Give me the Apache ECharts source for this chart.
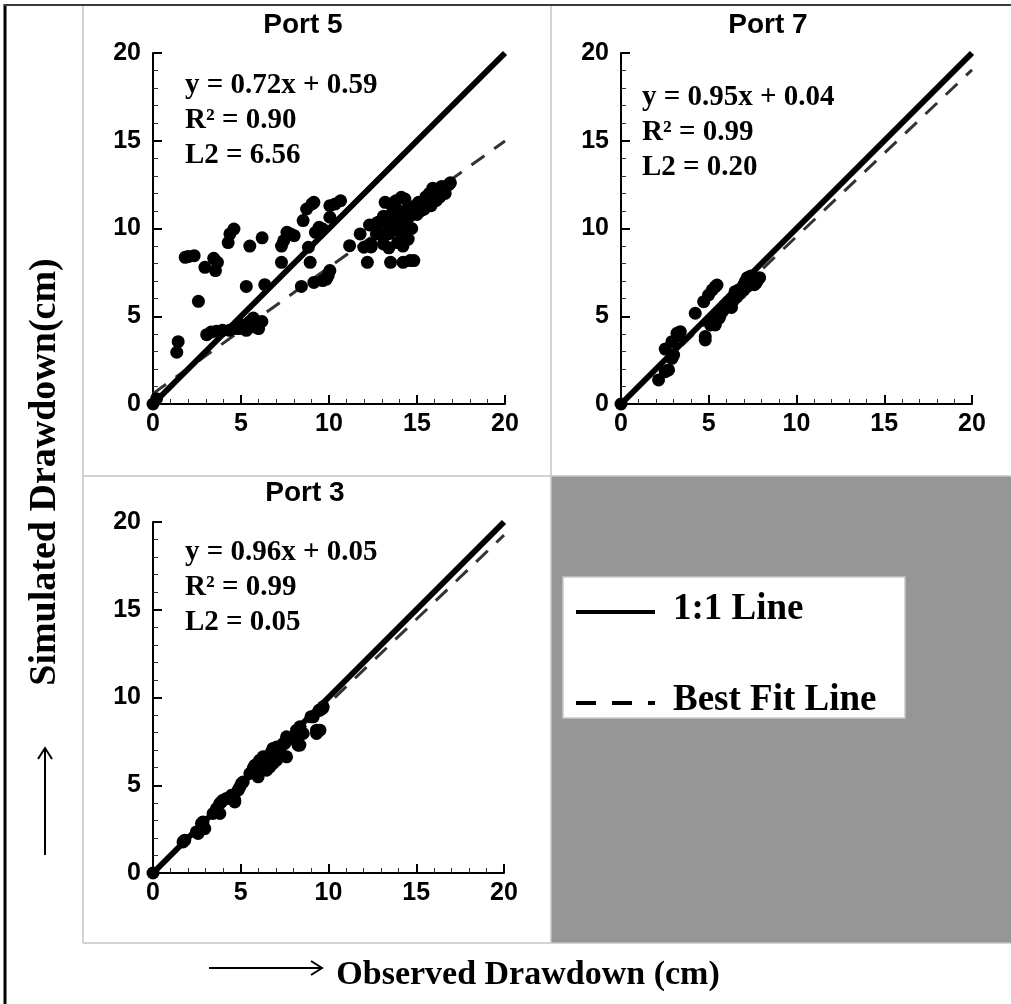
<!DOCTYPE html>
<html>
<head>
<meta charset="utf-8">
<script src="https://cdn.jsdelivr.net/npm/echarts@6/dist/echarts.min.js"></script>
<style>html,body{margin:0;padding:0;background:#fff}#c{width:1011px;height:1004px}</style>
</head>
<body>
<div id="c"></div>
<script>
// ---- data ----
const panelTitles = ['Port 5', 'Port 7', 'Port 3'];
const tickValues = [0, 5, 10, 15, 20];
const fitSlope = [0.72, 0.95, 0.96];
const fitIntercept = [0.59, 0.04, 0.05];
const fitR2 = ['0.90', '0.99', '0.99'];
const fitL2 = ['6.56', '0.20', '0.05'];
const legendLabels = ['1:1 Line', 'Best Fit Line'];
const xTitle = 'Observed Drawdown (cm)';
const yTitle = 'Simulated Drawdown(cm)';

const port5 = [[0,0],[0.2,0.3],[1.35,2.95],[1.43,3.55],[1.83,8.36],[2.34,8.45],[2.0,8.4],[2.58,5.85],
[2.95,7.79],[3.45,8.3],[3.55,7.6],[3.66,8.07],[4.27,9.2],[4.37,9.69],[4.6,9.97],[5.3,6.7],[5.5,9.0],
[6.2,9.47],[6.35,6.8],[3.05,3.95],[3.3,4.1],[3.6,4.15],[3.95,4.2],[4.35,4.2],[4.6,4.3],[4.87,4.3],
[5.1,4.5],[5.3,4.2],[5.5,4.7],[5.6,4.4],[5.83,4.5],[6.0,4.3],[6.19,4.7],[5.7,4.9],[7.3,8.07],[7.3,9.0],
[7.42,9.3],[7.61,9.78],[7.81,9.69],[8.02,9.59],[8.43,6.7],[8.53,10.45],[8.73,11.11],[9.03,11.4],
[9.14,11.49],[8.83,8.93],[8.93,8.07],[9.14,6.93],[9.64,7.03],[9.85,7.12],[10.05,7.6],[9.95,7.31],
[9.23,9.78],[9.44,10.07],[9.64,9.97],[10.05,10.64],[10.05,11.3],[10.35,11.4],[10.66,11.58],[11.17,9.02],
[11.77,9.69],[11.98,8.93],[12.38,9.12],[12.18,8.07],[12.59,10.16],[12.79,10.35],[12.69,9.69],[13.09,9.12],
[13.19,11.49],[13.5,11.4],[13.8,11.58],[14.11,11.78],[14.31,11.68],[13.5,8.07],[14.21,8.07],[14.61,8.17],
[14.82,8.17],[13.1,10.7],[13.3,10.3],[13.4,9.7],[13.6,10.9],[13.7,10.4],[13.8,9.9],[13.9,10.6],[14.0,11.0],
[14.1,10.2],[14.2,9.6],[14.3,10.8],[14.4,10.4],[14.5,11.1],[14.6,10.7],[14.7,10.0],[14.8,10.9],[14.9,11.3],
[15.0,10.8],[15.1,11.5],[15.2,11.0],[15.3,11.4],[15.4,11.1],[15.5,11.8],[15.6,11.4],[15.7,12.0],[15.8,11.3],
[15.9,11.8],[16.0,12.2],[16.1,11.6],[16.2,12.0],[16.3,11.8],[16.4,12.4],[16.5,12.3],[16.6,12.0],[16.8,12.5],
[16.9,12.6],[15.9,12.3],[14.2,9.0],[13.9,9.2],[14.5,9.4],[13.4,8.9],[12.9,9.7],[12.4,8.95],[12.3,10.2],[12.7,10.3]];

const port7 = [[0,0],[2.14,1.37],[2.52,1.84],[2.71,1.94],[2.52,3.13],[2.9,2.6],[3.0,2.79],[2.9,3.55],
[3.19,4.03],[3.38,4.12],[3.3,3.9],[4.23,5.17],[4.8,3.65],[4.8,3.84],[4.71,5.83],[4.99,6.21],[5.37,6.68],
[5.47,6.78],[5.2,6.5],[5.37,4.5],[5.47,4.79],[5.66,5.07],[5.2,4.6],[5.8,5.3],[5.9,5.6],[6.0,5.5],[6.1,5.8],
[6.2,5.7],[6.3,6.0],[6.4,5.9],[6.5,6.2],[6.5,6.4],[6.6,6.1],[6.7,6.5],[6.8,6.3],[6.9,6.6],[7.0,6.8],
[7.0,6.5],[7.1,7.0],[7.2,6.7],[7.2,7.2],[7.3,6.9],[7.4,7.3],[7.5,7.0],[7.6,7.2],[7.7,6.9],[7.8,7.1],
[7.9,7.2],[7.6,6.8],[6.3,5.5],[5.6,4.9],[5.1,4.5]];

const port3 = [[0,0],[1.71,1.77],[1.81,1.87],[2.47,2.34],[2.57,2.25],[2.76,2.53],[2.85,2.91],[2.76,2.82],
[2.95,2.53],[3.42,3.39],[3.62,3.67],[3.81,3.39],[3.8,3.96],[3.9,4.05],[3.99,4.15],[4.18,4.24],[4.37,4.24],
[4.47,4.43],[4.66,4.05],[4.66,4.14],[4.85,4.72],[4.95,4.9],[5.04,5.1],[5.14,5.19],[5.52,5.67],[5.71,5.96],
[5.8,6.14],[5.9,6.05],[5.99,5.48],[6.08,6.43],[6.27,6.62],[6.37,6.52],[6.47,5.86],[6.47,6.62],[6.66,6.05],
[6.75,6.9],[6.84,6.24],[6.84,7.1],[7.04,6.43],[7.04,7.18],[7.13,6.71],[7.23,7.0],[7.42,7.38],[7.51,7.38],
[7.61,6.62],[7.61,7.76],[7.9,7.66],[8.18,8.14],[8.18,7.95],[8.27,7.28],[8.37,8.33],[8.37,7.29],[8.56,7.95],
[9.0,8.9],[9.13,8.9],[9.32,7.95],[9.32,8.14],[9.47,9.28],[9.51,8.14],[9.51,9.28],[9.66,9.38],[9.7,9.47]];

const portData = [port5, port7, port3];
const oneToOne = [[0,0],[20,20]];

// ---- layout ----
const grids = [
  {left:153, top:53, width:352, height:351},
  {left:621, top:53, width:351, height:351},
  {left:153, top:522, width:351, height:351}
];
const SANS = '"Liberation Sans", Arial, sans-serif';
const SERIF = '"Liberation Serif", "Times New Roman", serif';

function axisCommon(i){
  return {
    gridIndex:i, type:'value', min:0, max:20, interval:5,
    axisLine:{show:true, onZero:false, lineStyle:{color:'#000', width:2}},
    axisTick:{show:true, inside:true, length:9, lineStyle:{color:'#000', width:2}},
    minorTick:{show:true, splitNumber:5, length:5, lineStyle:{color:'#333', width:1}},
    splitLine:{show:false},
    axisLabel:{color:'#000', fontFamily:SANS, fontWeight:'bold', fontSize:25, margin:8}
  };
}

const xAxes = grids.map((g,i)=>axisCommon(i));
const yAxes = grids.map((g,i)=>{ const a = axisCommon(i); a.axisLabel.margin = 12; return a; });

const series = [];
grids.forEach((g,i)=>{
  series.push({
    type:'line', xAxisIndex:i, yAxisIndex:i, symbol:'none', silent:true,
    data:[[0, fitIntercept[i]], [20, fitSlope[i]*20 + fitIntercept[i]]],
    lineStyle:{color:'#333', width:3, type:[16,12]}, z:2
  });
  series.push({
    type:'scatter', xAxisIndex:i, yAxisIndex:i, data:portData[i], symbol:'circle', symbolSize:13,
    itemStyle:{color:'#000', opacity:1}, clip:false, z:3
  });
  series.push({
    type:'line', xAxisIndex:i, yAxisIndex:i, symbol:'none', silent:true, data:oneToOne,
    lineStyle:{color:'#000', width:6}, z:4
  });
});

function txt(x, y, text, size, family, align, extra){
  return Object.assign({
    type:'text', x:x, y:y, silent:true,
    style:{text:text, fill:'#000', fontSize:size, fontWeight:'bold', fontFamily:family,
      align:align, verticalAlign:'middle', textAlign:align, textVerticalAlign:'middle'}
  }, extra||{});
}
function ln(x1,y1,x2,y2,color,w,dash,z){
  return {type:'line', silent:true, z:z||1, shape:{x1,y1,x2,y2},
    style:{stroke:color, lineWidth:w, lineDash:dash||null}};
}

const graphics = [];
graphics.push({type:'rect', z:-10, silent:true, shape:{x:551, y:476, width:460, height:467}, style:{fill:'#969696'}});
graphics.push(ln(83,5,83,943,'#c4c4c4',1.5,null,-5));
graphics.push(ln(551,5,551,943,'#c4c4c4',1.5,null,-5));
graphics.push(ln(83,476,1011,476,'#c4c4c4',1.5,null,-5));
graphics.push(ln(83,943,1011,943,'#c4c4c4',1.5,null,-5));
graphics.push(ln(5,4,5,1004,'#000',3));
graphics.push(ln(4,5,1011,5,'#3a3a3a',2));

const titlePos = [[303,25],[768,25],[305,493]];
const eqPos = [[185,86],[642,98],[185,553]];
grids.forEach((g,i)=>{
  graphics.push(txt(titlePos[i][0], titlePos[i][1], panelTitles[i], 28, SANS, 'center'));
  const b = fitIntercept[i].toFixed(2);
  const lines = ['y = ' + fitSlope[i].toFixed(2) + 'x + ' + b, 'R\u00B2 = ' + fitR2[i], 'L2 = ' + fitL2[i]];
  lines.forEach((t,k)=>graphics.push(txt(eqPos[i][0], eqPos[i][1] + k*35, t, 29, SERIF, 'left')));
});

graphics.push({type:'rect', silent:true, z:1, shape:{x:563, y:577, width:342, height:141},
  style:{fill:'#fff', stroke:'#c8c8c8', lineWidth:1.5}});
graphics.push(ln(576,612,655,612,'#000',4,null,2));
graphics.push(ln(576,703,655,703,'#000',4,[20,16],2));
graphics.push(txt(673,609,legendLabels[0],37,SERIF,'left',{z:2}));
graphics.push(txt(673,700,legendLabels[1],37,SERIF,'left',{z:2}));

graphics.push(txt(528,975,xTitle,34,SERIF,'center'));
graphics.push(ln(209,968,322,968,'#000',2));
graphics.push({type:'polyline', silent:true, shape:{points:[[311,961],[322,968],[311,975]]}, style:{stroke:'#000', lineWidth:2, fill:null}});
graphics.push(txt(45,472,yTitle,38,SERIF,'center',{rotation:Math.PI/2}));
graphics.push(ln(45,855,45,748,'#000',2));
graphics.push({type:'polyline', silent:true, shape:{points:[[38,759],[45,748],[52,759]]}, style:{stroke:'#000', lineWidth:2, fill:null}});

const chart = echarts.init(document.getElementById('c'), null, {renderer:'canvas'});
chart.setOption({
  animation:false,
  backgroundColor:'#fff',
  grid: grids,
  xAxis: xAxes,
  yAxis: yAxes,
  series: series,
  graphic: graphics
});
</script>
</body>
</html>
